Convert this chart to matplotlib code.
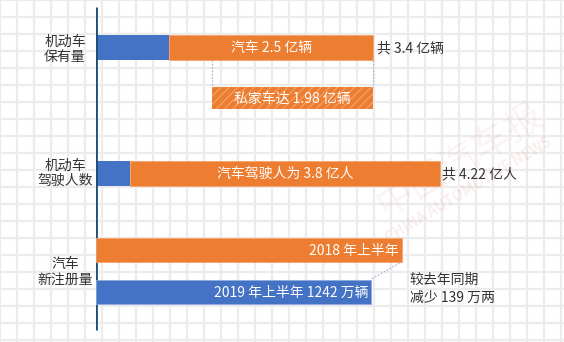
import matplotlib.pyplot as plt
import matplotlib.transforms as mtransforms

plt.rcParams['font.family'] = ['Noto Sans CJK SC', 'DejaVu Sans']

BLUE = '#4472C4'
ORANGE = '#ED7D31'
DARK = '#333333'
FS = 10

# 机动车保有量 / 驾驶人数 (亿)
vehicles_total = 3.4
cars = 2.5
private_cars = 1.98
drivers_total = 4.22
car_drivers = 3.8

# 汽车新注册量 (万辆)
reg_years = ['2018 年上半年', '2019 年上半年']
reg_values = [1381, 1242]
reg_drop = reg_values[0] - reg_values[1]

row_labels = ['机动车\n保有量', '机动车\n驾驶人数', '汽车\n新注册量']

fig = plt.figure(figsize=(5.64, 3.42), dpi=100)

# grid-paper background
bg = fig.add_axes([0, 0, 1, 1])
bg.set_xlim(0, 564)
bg.set_ylim(342, 0)
bg.axis('off')
for k in range(0, 34):
    bg.axvline(k * 17, color='#ececec', lw=1.6, zorder=0)
for k in range(0, 21):
    bg.axhline(k * 17, color='#ececec', lw=1.6, zorder=0)

# watermark
bg.text(460, 160, '中国汽车报', fontsize=27, rotation=31, color='#d23c3c', alpha=0.06,
        ha='center', va='center')
bg.text(468, 190, 'CHINA AUTOMOTIVE NEWS', fontsize=10.5, rotation=31, color='#d23c3c',
        alpha=0.09, ha='center', va='center', fontweight='bold')

ax = fig.add_axes([96 / 564, 0, 468 / 564, 1])
ax.patch.set_alpha(0)
ax.set_xlim(0, 468 / 81.5)
ax.set_ylim(342, 0)
ax.axis('off')

ax2 = ax.twiny()
ax2.set_xlim(0, 468 / 0.2214)
ax2.axis('off')

# row 1: 机动车保有量
other = vehicles_total - cars
ax.barh(47.5, other, height=25, color=BLUE, zorder=3)
ax.barh(47.5, cars, left=other, height=25, color=ORANGE, edgecolor='#f5a36a', lw=0.6, zorder=3)
ax.text(other + cars / 2, 48, f'汽车 {cars} 亿辆', color='white', fontsize=FS,
        ha='center', va='center', zorder=4)
ax.text(vehicles_total + 0.05, 48, f'共 {vehicles_total} 亿辆', color=DARK, fontsize=FS,
        ha='left', va='center')

plt.rcParams['hatch.linewidth'] = 0.8
pstart = vehicles_total - private_cars
ax.barh(98, private_cars, left=pstart, height=22, color=ORANGE, edgecolor='#f4a46e',
        hatch='////', lw=0, zorder=3)
ax.text(pstart + private_cars / 2, 98.5, f'私家车达 {private_cars} 亿辆', color='white',
        fontsize=FS, ha='center', va='center', zorder=4)
for xv in (pstart, vehicles_total):
    ax.plot([xv, xv], [60, 87], color='#9db3d0', lw=0.8, ls=(0, (1.5, 1.5)), zorder=2)

# row 2: 驾驶人数
other_d = drivers_total - car_drivers
ax.barh(173.5, other_d, height=25, color=BLUE, zorder=3)
ax.barh(173.5, car_drivers, left=other_d, height=25, color=ORANGE, edgecolor='#f5a36a',
        lw=0.6, zorder=3)
ax.text(other_d + car_drivers / 2, 174, f'汽车驾驶人为 {car_drivers} 亿人', color='white',
        fontsize=FS, ha='center', va='center', zorder=4)
ax.text(drivers_total + 0.03, 174, f'共 {drivers_total} 亿人', color=DARK, fontsize=FS,
        ha='left', va='center')

# row 3: 新注册量
ax2.barh(250, reg_values[0], height=24, color=ORANGE, edgecolor='#f5a36a', lw=0.6, zorder=3)
ax2.barh(292, reg_values[1], height=24, color=BLUE, edgecolor='#8faadc', lw=0.6, zorder=3)
ax2.text(reg_values[0] - 16, 250.5, reg_years[0], color='white', fontsize=FS,
         ha='right', va='center', zorder=4)
ax2.text(reg_values[1] - 12, 292.5, f'{reg_years[1]} {reg_values[1]} 万辆', color='white',
         fontsize=FS, ha='right', va='center', zorder=4)
ax2.plot([reg_values[0] - 10, reg_values[1] + 3], [263, 279], color='#9db3d0', lw=0.8,
         ls=(0, (1.5, 1.5)), zorder=2)
ax2.text(reg_values[0] + 35, 280, '较去年同期', color=DARK, fontsize=FS,
         ha='left', va='center')
ax2.text(reg_values[0] + 35, 298, f'减少 {reg_drop} 万两', color=DARK, fontsize=FS,
         ha='left', va='center')

# vertical axis line
ax.plot([0, 0], [7, 330], color='#1F4E79', lw=2, zorder=5, solid_capstyle='butt')

# row labels
trans = mtransforms.blended_transform_factory(fig.transFigure, ax.transData)
for lab, yc in zip(row_labels, [49.5, 173.5, 272]):
    ax.text(65 / 564, yc, lab, transform=trans, color=DARK, fontsize=FS,
            ha='center', va='center', linespacing=1.1)

fig.savefig('out.png', dpi=100)
